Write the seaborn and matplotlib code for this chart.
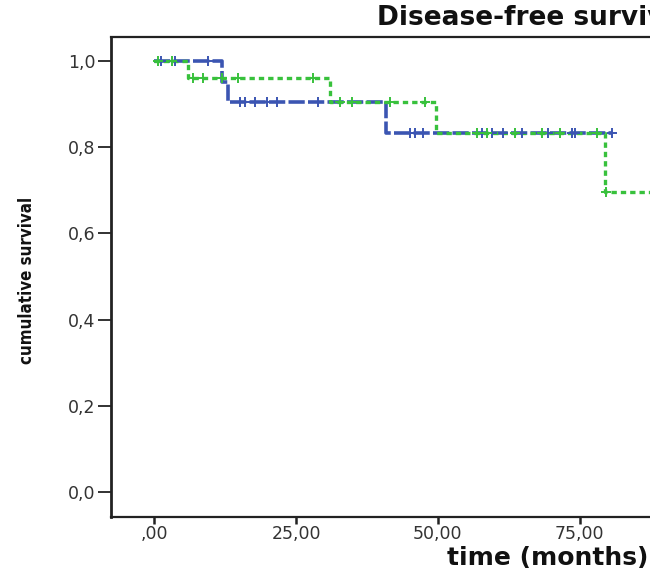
import numpy as np
import pandas as pd
import matplotlib
matplotlib.use("Agg")
import matplotlib.pyplot as plt
from matplotlib import font_manager
from matplotlib.ticker import FixedLocator, FixedFormatter
import seaborn as sns

# Kaplan-Meier step curves (event times and survival after each event)
blue_times = [0.0, 12.0, 13.0, 40.9, 80.7]
blue_surv = [1.0, 0.952, 0.905, 0.833, 0.833]
blue_cens_t = [1.2, 3.7, 9.5, 15.2, 16.0, 17.8, 19.9, 21.7, 28.9,
               45.1, 46.0, 47.4, 57.8, 59.5, 61.5, 64.8, 69.4, 73.6, 74.2, 80.7]

green_times = [0.0, 6.0, 31.0, 49.7, 79.5, 95.0]
green_surv = [1.0, 0.96, 0.905, 0.833, 0.696, 0.696]
green_cens_t = [0.7, 3.2, 6.9, 8.6, 12.0, 14.8, 28.0, 32.8, 34.9, 41.6, 47.7,
                56.9, 58.7, 63.6, 68.4, 71.5, 78.1, 79.6]

x_ticks = [0, 25, 50, 75]
x_tick_labels = [",00", "25,00", "50,00", "75,00"]
y_ticks = [0.0, 0.2, 0.4, 0.6, 0.8, 1.0]
y_tick_labels = ["0,0", "0,2", "0,4", "0,6", "0,8", "1,0"]

title_text = "Disease-free survival"
x_label = "time (months)"
y_label = "cumulative survival"

BLUE = "#3b55b2"
GREEN = "#38c13c"


def surv_at(times, surv, t):
    idx = np.searchsorted(times, t, side="right") - 1
    return surv[idx]


sns.set_style("white")
plt.rcParams["font.family"] = ["DejaVu Sans"]

installed = {f.name for f in font_manager.fontManager.ttflist}
narrow = "Liberation Sans Narrow" if "Liberation Sans Narrow" in installed else "DejaVu Sans"

fig = plt.figure(figsize=(6.5, 5.7), dpi=100)
ax = fig.add_axes([111 / 650, 53 / 570, (985 - 111) / 650, (517 - 37) / 570])

blue_df = pd.DataFrame({"t": blue_times, "s": blue_surv})
green_df = pd.DataFrame({"t": green_times, "s": green_surv})

sns.lineplot(data=blue_df, x="t", y="s", ax=ax, color=BLUE, linewidth=2.6,
             drawstyle="steps-post", estimator=None, sort=False,
             linestyle=(0, (4.5, 0.9)), zorder=3)
sns.lineplot(data=green_df, x="t", y="s", ax=ax, color=GREEN, linewidth=2.4,
             drawstyle="steps-post", estimator=None, sort=False,
             linestyle=(0, (1.6, 1.2)), zorder=4)

blue_cens = pd.DataFrame({"t": blue_cens_t,
                          "s": [surv_at(blue_times, blue_surv, t) for t in blue_cens_t]})
green_cens = pd.DataFrame({"t": green_cens_t,
                           "s": [surv_at(green_times, green_surv, t) for t in green_cens_t]})
sns.scatterplot(data=blue_cens, x="t", y="s", ax=ax, marker="+", s=42,
                color=BLUE, linewidth=1.4, zorder=5)
sns.scatterplot(data=green_cens, x="t", y="s", ax=ax, marker="+", s=42,
                color=GREEN, linewidth=1.4, zorder=6)

ax.set_xlim(-7.6, 146.4)
ax.set_ylim(-0.058, 1.0557)
ax.xaxis.set_major_locator(FixedLocator(x_ticks))
ax.xaxis.set_major_formatter(FixedFormatter(x_tick_labels))
ax.yaxis.set_major_locator(FixedLocator(y_ticks))
ax.yaxis.set_major_formatter(FixedFormatter(y_tick_labels))
ax.set_xlabel("")
ax.set_ylabel("")

for side in ("left", "bottom", "top", "right"):
    ax.spines[side].set_visible(True)
    ax.spines[side].set_color("#222222")
ax.spines["left"].set_linewidth(2.0)
ax.spines["bottom"].set_linewidth(1.6)
ax.spines["top"].set_linewidth(1.6)
ax.spines["right"].set_linewidth(1.6)

ax.tick_params(axis="y", direction="out", length=9.5, width=1.3, pad=1.5,
               labelsize=12.5, labelcolor="#333333", color="#222222", left=True)
ax.tick_params(axis="x", direction="out", length=5.0, width=1.8, pad=1.0,
               labelsize=12.5, labelcolor="#333333", color="#222222", bottom=True)

fig.text(377 / 650, 1 - 25 / 570, title_text, ha="left", va="baseline",
         fontsize=19, fontweight="bold", color="#111111")
fig.text(447 / 650, 1 - 565 / 570, x_label, ha="left", va="baseline",
         fontsize=18, fontweight="bold", color="#111111")
fig.text(27 / 650, 1 - 280 / 570, y_label, ha="center", va="center",
         rotation=90, fontsize=12.2, fontweight="bold", fontstretch="condensed",
         color="#111111", family=[narrow, "DejaVu Sans"])

fig.savefig("out.png", dpi=100)
